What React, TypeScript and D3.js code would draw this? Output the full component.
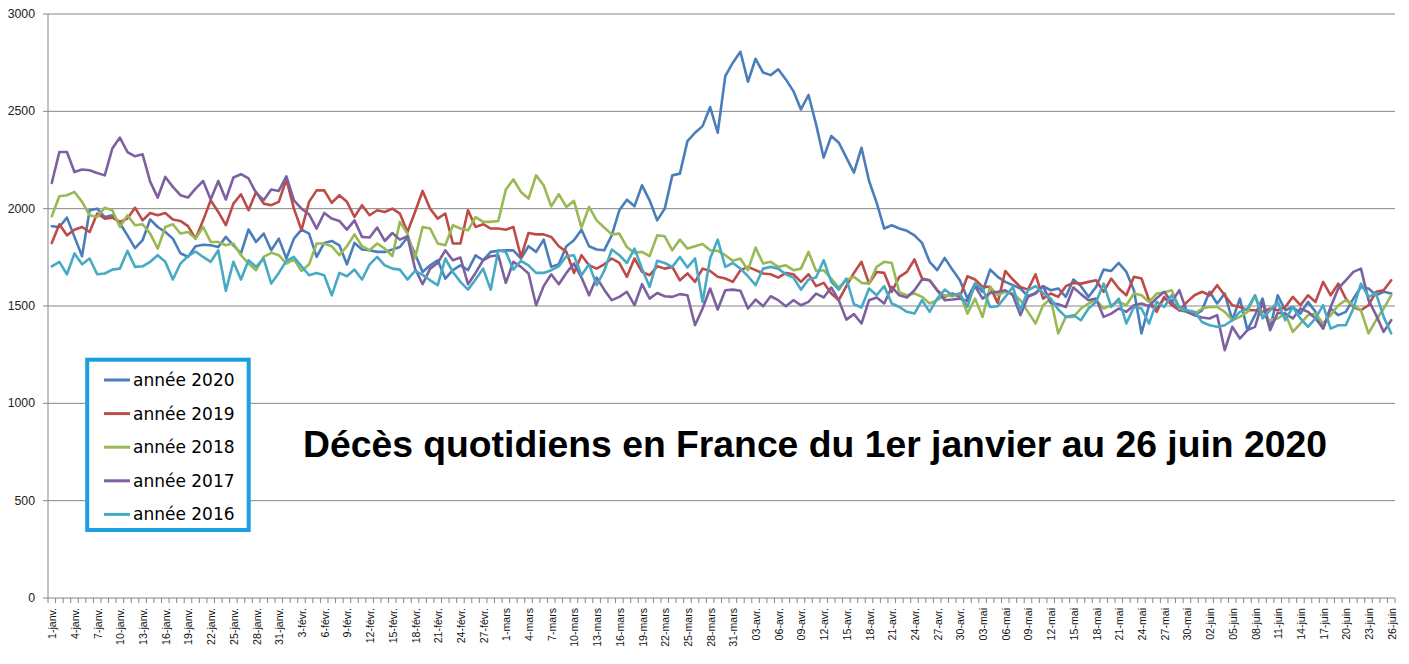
import React from "react";
import * as d3 from "d3";

const years = ["année 2020", "année 2019", "année 2018", "année 2017", "année 2016"];
const colors = ["#4A7EBB", "#BE4B48", "#98B954", "#7D60A0", "#46AAC5"];

const tickLabels = [
  "1-janv.", "4-janv.", "7-janv.", "10-janv.", "13-janv.", "16-janv.", "19-janv.", "22-janv.", "25-janv.", "28-janv.", "31-janv.",
  "3-févr.", "6-févr.", "9-févr.", "12-févr.", "15-févr.", "18-févr.", "21-févr.", "24-févr.", "27-févr.",
  "1-mars", "4-mars", "7-mars", "10-mars", "13-mars", "16-mars", "19-mars", "22-mars", "25-mars", "28-mars", "31-mars",
  "03-avr.", "06-avr.", "09-avr.", "12-avr.", "15-avr.", "18-avr.", "21-avr.", "24-avr.", "27-avr.", "30-avr.",
  "03-mai", "06-mai", "09-mai", "12-mai", "15-mai", "18-mai", "21-mai", "24-mai", "27-mai", "30-mai",
  "02-juin", "05-juin", "08-juin", "11-juin", "14-juin", "17-juin", "20-juin", "23-juin", "26-juin",
];

const yTicks = [0, 500, 1000, 1500, 2000, 2500, 3000];

const y2020 = [
  1910, 1906, 1954, 1855, 1756, 1992, 2000, 1957, 1966, 1925, 1863, 1797, 1838, 1945, 1906, 1880, 1846, 1771, 1752, 1807,
  1815, 1812, 1803, 1855, 1812, 1770, 1893, 1829, 1872, 1786, 1846,
  1744, 1846, 1892, 1872, 1752, 1824, 1834, 1812, 1714, 1824, 1790, 1786, 1778,
  1778, 1790, 1803, 1852, 1769, 1675, 1709, 1735, 1641, 1684, 1709, 1684, 1760, 1735, 1778, 1783,
  1786, 1786, 1744, 1807, 1778, 1841, 1701, 1714, 1807, 1838,
  1892, 1807, 1790, 1786, 1863, 1992, 2046, 2012, 2120, 2043,
  1940, 2000, 2171, 2180, 2347, 2390, 2424, 2522, 2390, 2681,
  2750, 2806, 2652, 2770, 2699, 2686, 2716, 2664, 2604, 2510,
  2584, 2433, 2262, 2373, 2339, 2262, 2185, 2313, 2142, 2031,
  1898, 1915, 1898, 1886, 1863, 1824, 1727, 1684, 1747, 1687,
  1632, 1538, 1615, 1573, 1687, 1650, 1624, 1607, 1590, 1550,
  1567, 1602, 1581, 1590, 1547, 1636, 1602, 1547, 1598, 1687,
  1680, 1721, 1675, 1581, 1359, 1504, 1487, 1538, 1521, 1478,
  1470, 1453, 1478, 1573, 1513, 1564, 1427, 1538, 1376, 1453,
  1538, 1384, 1555, 1478, 1495, 1461, 1521, 1470, 1384, 1487,
  1453, 1470, 1538, 1598, 1590, 1555, 1573, 1564,
];

const y2019 = [
  1824, 1920, 1863, 1892, 1906, 1880, 1975, 1949, 1954, 1932, 1949, 2005, 1940, 1978, 1966, 1978, 1944, 1937, 1910, 1846,
  1940, 2043, 1983, 1915, 2026, 2074, 1992, 2086, 2026, 2018, 2035,
  2150, 2000, 1890, 2035, 2094, 2094, 2030, 2069, 2035, 1958, 2018, 1966, 1992, 1983, 2000, 1975, 1880, 1983, 2091, 2000,
  1949, 1975, 1821, 1821, 1992, 1906, 1920, 1898, 1898,
  1892, 1906, 1752, 1875, 1868, 1868, 1855, 1807, 1778, 1670,
  1761, 1709, 1692, 1714, 1744, 1721, 1650, 1744, 1675, 1658,
  1704, 1692, 1701, 1632, 1667, 1624, 1692, 1680, 1650, 1641,
  1624, 1684, 1701, 1684, 1667, 1663, 1646, 1670, 1663, 1624,
  1663, 1602, 1619, 1564, 1530, 1602, 1670, 1727, 1615, 1675,
  1670, 1573, 1650, 1675, 1739, 1641, 1632, 1581, 1547, 1564,
  1547, 1653, 1636, 1598, 1598, 1516, 1680, 1636, 1598, 1584,
  1663, 1538, 1564, 1547,
  1602, 1619, 1615, 1624, 1632, 1573, 1641, 1590, 1555, 1650,
  1641, 1530, 1470, 1547, 1504, 1478, 1520, 1555, 1573, 1555,
  1607, 1555, 1504, 1495, 1478, 1478, 1470, 1487, 1478, 1495,
  1547, 1504, 1555, 1521, 1624, 1555, 1615, 1538, 1495, 1478,
  1504, 1573, 1581, 1632,
];

const y2018 = [
  1961, 2064, 2069, 2086, 2035, 1966, 1957, 2005, 1992, 1906, 1966, 1915, 1920, 1872, 1795, 1906, 1920, 1872, 1880, 1846,
  1906, 1829, 1829, 1812, 1821, 1761, 1718, 1684, 1752, 1773, 1761,
  1718, 1740, 1680, 1714, 1821, 1821, 1807, 1761, 1807, 1868, 1807, 1786, 1821, 1795, 1756, 1932, 1872, 1744, 1906, 1898,
  1821, 1812, 1915, 1898, 1889, 1957, 1932, 1932, 1937,
  2098, 2150, 2086, 2052, 2171, 2120, 2012, 2074, 2009, 2040,
  1903, 2009, 1940, 1903, 1868, 1872, 1803, 1773, 1778, 1756,
  1863, 1858, 1786, 1841, 1795, 1807, 1818, 1786, 1783, 1761,
  1732, 1744, 1684, 1800, 1718, 1727, 1701, 1709, 1684, 1692,
  1778, 1680, 1684, 1641, 1595, 1632, 1650, 1619, 1615, 1701,
  1727, 1721, 1570, 1555, 1564, 1547, 1513, 1530, 1555, 1550,
  1564, 1461, 1538, 1444, 1598, 1555, 1573, 1564, 1530, 1470,
  1410, 1504, 1538, 1359, 1444, 1444, 1487, 1513, 1530, 1487,
  1504, 1521, 1504, 1564, 1555, 1521, 1564, 1570, 1581, 1487,
  1478, 1461, 1487, 1495, 1495, 1470, 1427, 1444, 1470, 1555,
  1453, 1427, 1436, 1461, 1367, 1410, 1453, 1461, 1410, 1453,
  1504, 1530, 1504, 1478, 1359, 1427, 1487, 1555,
];

const y2017 = [
  2132, 2291, 2291, 2188, 2201, 2197, 2183, 2171, 2309, 2365, 2291, 2269, 2279, 2139, 2057, 2163, 2112, 2069, 2057, 2103,
  2142, 2047, 2142, 2047, 2160, 2177, 2155, 2081, 2043, 2098, 2091,
  2166, 2043, 2000, 1971, 1898, 1978, 1949, 1937, 1892, 1940, 1855, 1852, 1903, 1834, 1875, 1841, 1858, 1692, 1612, 1692,
  1721, 1786, 1735, 1749, 1612, 1670, 1735, 1756, 1761,
  1619, 1727, 1701, 1667, 1504, 1602, 1663, 1612, 1670, 1718,
  1646, 1555, 1646, 1584, 1530, 1547, 1573, 1504, 1612, 1538,
  1567, 1550, 1547, 1561, 1555, 1401, 1487, 1590, 1482, 1581,
  1584, 1578, 1487, 1533, 1499, 1550, 1530, 1499, 1530, 1504,
  1521, 1564, 1544, 1595, 1530, 1430, 1458, 1410, 1530, 1544,
  1513, 1598, 1555, 1544, 1581, 1636, 1632, 1581, 1530, 1533,
  1538, 1526, 1602, 1538, 1567, 1573, 1581, 1555, 1453, 1547,
  1564, 1602, 1516, 1509, 1495, 1595, 1561, 1530, 1538, 1444,
  1461, 1487, 1470, 1504, 1513, 1499, 1540, 1573, 1521, 1581,
  1470, 1453, 1441, 1436, 1453, 1273, 1393, 1333, 1376, 1393,
  1521, 1376, 1465, 1461, 1436, 1487, 1470, 1436, 1384, 1495,
  1590, 1632, 1675, 1692, 1530, 1453, 1367, 1427,
];

const y2016 = [
  1704, 1727, 1663, 1770, 1714, 1744, 1663, 1667, 1687, 1692, 1783, 1701, 1704, 1727, 1761, 1727, 1636, 1718, 1756, 1780,
  1752, 1727, 1786, 1578, 1727, 1636, 1735, 1701, 1744, 1615, 1670,
  1732, 1752, 1704, 1658, 1670, 1658, 1555, 1670, 1653, 1687, 1636, 1714, 1752, 1709, 1692, 1687, 1636, 1680, 1660, 1632,
  1607, 1744, 1675, 1624, 1584, 1636, 1692, 1584, 1786,
  1778, 1687, 1732, 1709, 1670, 1670, 1684, 1704, 1756, 1761,
  1658, 1714, 1607, 1680, 1790, 1761, 1721, 1795, 1692, 1598,
  1732, 1721, 1701, 1752, 1698, 1744, 1521, 1744, 1841, 1701,
  1721, 1692, 1653, 1607, 1692, 1701, 1692, 1663, 1646, 1584,
  1636, 1646, 1735, 1624, 1584, 1641, 1509, 1492, 1590, 1555,
  1602, 1513, 1495, 1470, 1461, 1530, 1470, 1538, 1584, 1555,
  1564, 1495, 1615, 1590, 1495, 1499, 1547, 1598, 1478, 1581,
  1602, 1567, 1538, 1482, 1444, 1453, 1427, 1487, 1521, 1615,
  1495, 1538, 1410, 1495, 1487, 1410, 1521, 1495, 1555, 1495,
  1478, 1470, 1418, 1401, 1393, 1401, 1427, 1470, 1487, 1555,
  1436, 1478, 1521, 1427, 1495, 1436, 1393, 1436, 1504, 1384,
  1401, 1401, 1487, 1615, 1547, 1564, 1444, 1359,
];

const series = [y2020, y2019, y2018, y2017, y2016];

const W = 1409;
const H = 664;
const left = 48;
const right = 1395;
const top = 14;
const bottom = 598;
const N = 178;
const GRID = "#868686";

export default function App() {
  const x = d3.scaleBand<number>().domain(d3.range(N)).range([left, right]);
  const step = x.step();
  const cx = (i: number) => (x(i) as number) + x.bandwidth() / 2;
  const y = d3.scaleLinear().domain([0, 3000]).range([bottom, top]);
  const line = d3
    .line<number>()
    .x((_, i) => cx(i))
    .y((v) => y(v));

  const boundaries = d3.range(N + 1).map((k) => left + k * step);

  return (
    <div style={{ position: "absolute", left: 0, top: 0, width: W, height: H, background: "#fff" }}>
      <svg width={W} height={H} style={{ display: "block" }}>
        <rect x={0} y={0} width={W} height={H} fill="#fff" />
        {yTicks.map((t) => (
          <g key={t}>
            {t > 0 && (
              <line x1={left} x2={right} y1={y(t)} y2={y(t)} stroke={GRID} strokeWidth={1} />
            )}
            <line x1={left - 5} x2={left} y1={y(t)} y2={y(t)} stroke={GRID} strokeWidth={1} />
            <text
              x={35}
              y={y(t)}
              textAnchor="end"
              dominantBaseline="central"
              fontFamily="Liberation Sans, Arial, sans-serif"
              fontSize={12.3}
              fill="#222"
            >
              {t}
            </text>
          </g>
        ))}
        <line x1={left} x2={left} y1={top} y2={bottom} stroke={GRID} strokeWidth={1} />
        <line x1={left} x2={right} y1={bottom} y2={bottom} stroke={GRID} strokeWidth={1} />
        {boundaries.map((bx, k) => (
          <line key={k} x1={bx} x2={bx} y1={bottom} y2={bottom + 5} stroke={GRID} strokeWidth={1} />
        ))}
        {tickLabels.map((lab, j) => {
          const i = j * 3;
          return (
            <text
              key={lab}
              transform={`translate(${cx(i) + 0.5},${bottom + 10}) rotate(-90)`}
              textAnchor="end"
              dominantBaseline="central"
              fontFamily="Liberation Sans, Arial, sans-serif"
              fontSize={10.6}
              fill="#111"
            >
              {lab}
            </text>
          );
        })}
        {series.map((s, k) => (
          <path
            key={years[k]}
            d={line(s) || ""}
            fill="none"
            stroke={colors[k]}
            strokeWidth={2.6}
            strokeLinejoin="round"
            strokeLinecap="round"
          />
        ))}
        <text
          x={815}
          y={457}
          textAnchor="middle"
          fontFamily="Liberation Sans, Arial, sans-serif"
          fontWeight="bold"
          fontSize={37.3}
          fill="#000"
        >
          Décès quotidiens en France du 1er janvier au 26 juin 2020
        </text>
        <rect x={87.2} y={359.7} width={161.5} height={170.3} fill="#fff" stroke="#1AA0E0" strokeWidth={4} />
        {years.map((name, k) => {
          const ly = 380 + k * 33.6;
          return (
            <g key={name}>
              <line x1={104} x2={130} y1={ly} y2={ly} stroke={colors[k]} strokeWidth={3} />
              <text
                x={133}
                y={ly}
                dominantBaseline="central"
                fontFamily="DejaVu Sans, sans-serif"
                fontSize={17}
                fill="#000"
              >
                {name}
              </text>
            </g>
          );
        })}
      </svg>
    </div>
  );
}
